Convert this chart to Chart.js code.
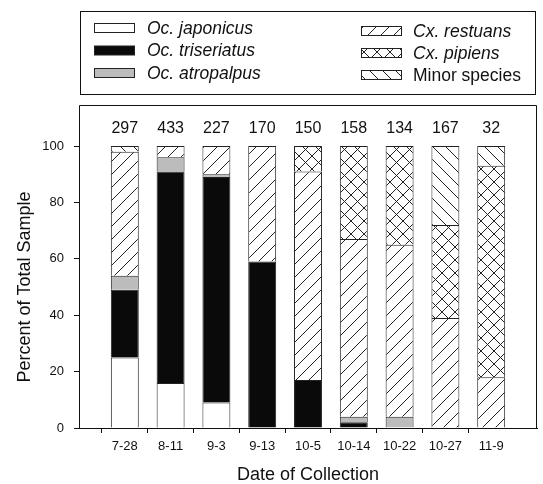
<!DOCTYPE html>
<html>
<head>
<meta charset="utf-8">
<script src="https://cdn.jsdelivr.net/npm/chart.js@4.4.1/dist/chart.umd.min.js"></script>
<style>
  html, body { margin: 0; padding: 0; background: #fff; }
  #wrap { width: 543px; height: 484px; position: relative; }
</style>
</head>
<body>
<div id="wrap"><canvas id="chart"></canvas></div>
<script>
/* ─── Data (percent of total sample per collection date) ─── */
const dates       = ["7-28", "8-11", "9-3", "9-13", "10-5", "10-14", "10-22", "10-27", "11-9"];
const counts      = [297, 433, 227, 170, 150, 158, 134, 167, 32];
const japonicus   = [25, 16,  9,  0,  0,  0,  0,  0,  0];
const triseriatus = [24, 75, 80, 59, 17,  2,  0,  0,  0];
const atropalpus  = [ 5,  5,  1,  0,  0,  2,  4,  0,  0];
const restuans    = [44,  4, 10, 41, 74, 63, 61, 39, 18];
const pipiens     = [ 0,  0,  0,  0,  9, 33, 35, 33, 75];
const minor       = [ 2,  0,  0,  0,  0,  0,  0, 28,  7];
const yTicks      = [0, 20, 40, 60, 80, 100];

const FONT = "'Liberation Sans', Arial, sans-serif";
const INK  = "#111";

/* ─── Hatch patterns ─── */
function hatch(kind) {
  const s = 13;
  const c = document.createElement("canvas");
  c.width = s; c.height = s;
  const g = c.getContext("2d");
  g.fillStyle = "#fff";
  g.fillRect(0, 0, s, s);
  g.strokeStyle = "#222";
  g.lineWidth = 1;
  g.beginPath();
  if (kind === "fwd" || kind === "cross") {
    g.moveTo(-1, s + 1); g.lineTo(s + 1, -1);
  }
  if (kind === "back" || kind === "cross") {
    g.moveTo(-1, -1); g.lineTo(s + 1, s + 1);
  }
  g.stroke();
  return g.createPattern(c, "repeat");
}

// empty slot on each end so the categories sit one full step in from the frame
const pad = a => [null, ...a.map(v => v || null), null];

const series = [
  { label: "Oc. japonicus",   data: japonicus,   fill: "#ffffff" },
  { label: "Oc. triseriatus", data: triseriatus, fill: "#0a0a0a" },
  { label: "Oc. atropalpus",  data: atropalpus,  fill: "#bcbcbc" },
  { label: "Cx. restuans",    data: restuans,    fill: hatch("fwd") },
  { label: "Cx. pipiens",     data: pipiens,     fill: hatch("cross") },
  { label: "Minor species",   data: minor,       fill: hatch("back") },
];

/* ─── Plot frame, sample sizes and the boxed legend ─── */
const extras = {
  id: "extras",
  afterDraw(chart) {
    const ctx = chart.ctx;
    const area = chart.chartArea;
    const frameTop = 105.5;
    ctx.save();
    ctx.strokeStyle = INK;
    ctx.lineWidth = 1;
    ctx.beginPath();
    ctx.moveTo(area.left + 0.5, area.top);
    ctx.lineTo(area.left + 0.5, frameTop);
    ctx.lineTo(area.right - 0.5, frameTop);
    ctx.lineTo(area.right - 0.5, area.bottom);
    ctx.stroke();

    // sample size above each bar
    ctx.fillStyle = INK;
    ctx.font = "16px " + FONT;
    ctx.textAlign = "center";
    ctx.textBaseline = "middle";
    const yTop = chart.scales.y.getPixelForValue(100);
    counts.forEach((n, i) => {
      const x = chart.scales.x.getPixelForValue(i + 1);
      ctx.fillText(String(n), x, yTop - 17);
    });

    // legend box
    ctx.strokeRect(80.5, 11.5, 455, 83);
    const cols = [
      { sx: 94.5,  tx: 147, rows: [28, 50.5, 73] },
      { sx: 361.5, tx: 413, rows: [31, 53, 75] },
    ];
    chart.data.datasets.forEach((ds, i) => {
      const col = cols[Math.floor(i / 3)];
      const y = col.rows[i % 3];
      ctx.fillStyle = ds.backgroundColor;
      ctx.fillRect(col.sx, y - 4.5, 40, 9);
      ctx.strokeStyle = "#222";
      ctx.strokeRect(col.sx, y - 4.5, 40, 9);
      const italic = /^(Oc|Cx)\./.test(ds.label);
      ctx.fillStyle = INK;
      ctx.font = (italic ? "italic " : "") + "17.5px " + FONT;
      ctx.textAlign = "left";
      ctx.fillText(ds.label, col.tx, y + 1);
    });
    ctx.restore();
  }
};

Chart.defaults.font.family = FONT;
Chart.defaults.color = INK;

new Chart(document.getElementById("chart"), {
  type: "bar",
  data: {
    labels: ["", ...dates, ""],
    datasets: series.map(s => ({
      label: s.label,
      data: pad(s.data),
      backgroundColor: s.fill,
      borderColor: "#222",
      borderWidth: { top: 1, left: 1, right: 1, bottom: 0 },
      borderSkipped: false,
      categoryPercentage: 1,
      barPercentage: 0.61,
    })),
  },
  options: {
    responsive: true,
    maintainAspectRatio: false,
    animation: false,
    layout: { padding: { top: 146, right: 2, left: 0, bottom: 0 } },
    plugins: { legend: { display: false }, tooltip: { enabled: false } },
    scales: {
      x: {
        stacked: true,
        offset: false,
        afterFit: s => { s.height = 56; },
        border: { color: INK, width: 1 },
        grid: {
          drawOnChartArea: false,
          tickLength: 5,
          tickColor: c => (c.index === 0 || c.index === dates.length + 1) ? "rgba(0,0,0,0)" : INK,
        },
        ticks: { font: { size: 13 }, padding: 6, maxRotation: 0, autoSkip: false },
        title: {
          display: true,
          text: "Date of Collection",
          font: { size: 18, lineHeight: 1 },
          padding: { top: 0, bottom: 0 },
        },
      },
      y: {
        stacked: true,
        min: 0,
        max: 100,
        afterFit: s => { s.width = 79; },
        afterBuildTicks: s => { s.ticks = yTicks.map(v => ({ value: v })); },
        border: { color: INK, width: 1 },
        grid: { drawOnChartArea: false, tickLength: 5, tickColor: INK },
        ticks: { font: { size: 13 }, padding: 10 },
        title: {
          display: true,
          text: "Percent of Total Sample",
          font: { size: 18, lineHeight: 1 },
          padding: { top: 16, bottom: 0 },
        },
      },
    },
  },
  plugins: [extras],
});
</script>
</body>
</html>
